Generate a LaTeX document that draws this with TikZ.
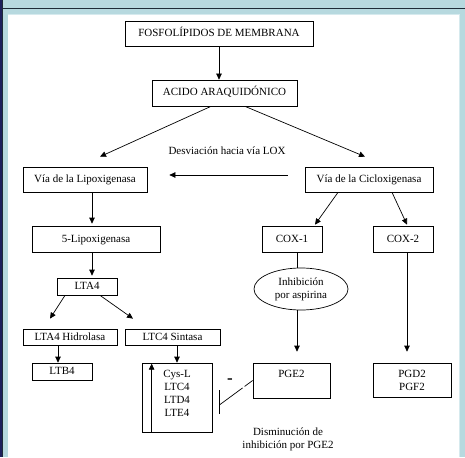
\documentclass[tikz,border=0pt]{standalone}
\usepackage{fontspec}
\setmainfont{Liberation Serif}
\usetikzlibrary{positioning,arrows.meta,shapes.geometric,calc}
\definecolor{RutaBlue}{RGB}{183,217,223}
\definecolor{RutaNavy}{RGB}{30,32,92}
\definecolor{RutaLine}{RGB}{30,44,56}
\definecolor{RutaEdge}{RGB}{214,234,238}
\tikzset{
  ruta box/.style={
    draw=black,
    line width=0.7pt,
    fill=white,
    align=center,
    font=\fontsize{11}{13.3}\selectfont,
    inner sep=0pt,
    text height=8pt,
    text depth=2pt
  },
  ruta top/.style={ruta box, text height=14pt},
  ruta oval/.style={ruta box, ellipse, text height=, text depth=, minimum width=94pt, minimum height=42pt},
  ruta arrow/.style={-{Triangle[length=6pt,width=5.5pt]}, line width=0.7pt},
  ruta line/.style={line width=0.7pt},
  ruta label/.style={font=\fontsize{11}{12.5}\selectfont, align=center}
}
\begin{document}
\begin{tikzpicture}[x=1pt,y=-1pt]
\useasboundingbox (0,0) rectangle (465,457);
\fill[RutaBlue] (0,0) rectangle (465,457);
\fill[RutaNavy] (0,0) rectangle (3,457);
\draw[RutaLine, line width=1.1pt] (2.6,0) -- (2.6,457);
\draw[RutaLine, line width=1.1pt] (2.6,8.5) -- (465,8.5);
\fill[white] (8,14) rectangle (459,457);
\draw[RutaEdge] (8,14) -- (459,14) -- (459,457);

\node[ruta box, minimum width=188pt, minimum height=25pt] (fosf) at (219,33.5) {FOSFOLÍPIDOS DE MEMBRANA};
\node[ruta box, minimum width=145pt, minimum height=26pt] (acido) at (224.5,93) {ACIDO ARAQUIDÓNICO};
\node[ruta label] (desvio) at (227,151) {Desviación hacia vía LOX};
\node[ruta box, minimum width=124pt, minimum height=25pt] (lipox) at (85,179.5) {Vía de la Lipoxigenasa};
\node[ruta box, minimum width=128pt, minimum height=25pt] (ciclox) at (369,179.5) {Vía de la Cicloxigenasa};
\node[ruta box, minimum width=128pt, minimum height=26pt] (lipo5) at (96,239) {5-Lipoxigenasa};
\node[ruta box, minimum width=60pt, minimum height=17pt] (lta4) at (87,286.5) {LTA4};
\node[ruta box, minimum width=94pt, minimum height=16pt] (hidro) at (70,337) {LTA4 Hidrolasa};
\node[ruta box, minimum width=95pt, minimum height=16pt] (sintasa) at (172.5,337) {LTC4 Sintasa};
\node[ruta box, minimum width=60pt, minimum height=17pt] (ltb4) at (62,371.5) {LTB4};
\node[ruta top, text width=70pt, text depth=55pt] (cysl) at (177,397.5) {Cys-L\\LTC4\\LTD4\\LTE4};
\node[ruta box, minimum width=60pt, minimum height=26pt] (cox1) at (292,239) {COX-1};
\node[ruta box, minimum width=60pt, minimum height=26pt] (cox2) at (403,239) {COX-2};
\node[ruta oval] (aspirina) at (301,289) {Inhibición\\por aspirina};
\node[ruta top, minimum width=77pt, text depth=21pt] (pge2) at (291.5,380.5) {PGE2};
\node[ruta top, text width=78pt, text depth=20pt] (pgd2) at (412,380) {PGD2\\PGF2};
\node[font=\bfseries\fontsize{17}{17}\selectfont] (menos) at (230,381) {-};
\node[ruta label] (dismin) at (288,439.5) {Disminución de\\inhibición por PGE2};
\coordinate (freno) at ($(cysl.east)+(7,7.5)$);

\draw[ruta arrow] (fosf.south) -- (fosf.south |- acido.north);
\draw[ruta arrow] ($(acido.south)+(-13.5,0)$) -- ($(lipox.north)+(15,-10)$);
\draw[ruta arrow] ($(acido.south)+(20.5,0)$) -- ($(ciclox.north)+(-4,-10)$);
\draw[ruta arrow] ($(ciclox.west)+(-17,-4.5)$) -- ($(lipox.east)+(22,-4.5)$);
\draw[ruta arrow] ($(lipox.south)+(7,0)$) -- ($(lipo5.north)+(-4,-2)$);
\draw[ruta arrow] ($(lipo5.south)+(-4,0)$) -- ($(lta4.north)+(5,-2)$);
\draw[ruta arrow] ($(lta4.south)+(-22,0)$) -- ($(hidro.north)+(-20,-10)$);
\draw[ruta arrow] ($(lta4.south)+(13,0)$) -- ($(sintasa.north)+(-39.5,-10)$);
\draw[ruta arrow] ($(hidro.south)+(-12,0)$) -- ($(ltb4.north)+(-4,0)$);
\draw[ruta arrow] ($(sintasa.south)+(4.5,0)$) -- (cysl.north);
\draw[ruta arrow] ($(cysl.south west)+(10,0)$) -- ($(cysl.north west)+(10,1)$);
\draw[ruta arrow] ($(ciclox.south)+(-31,0)$) -- ($(cox1.north)+(23,-1)$);
\draw[ruta arrow] ($(ciclox.south)+(23,0)$) -- ($(cox2.north)+(4,-1)$);
\draw[ruta line] ($(cox1.south)+(5,0)$) -- ($(aspirina.north)+(-4,0)$);
\draw[ruta arrow] ($(aspirina.south)+(-4,0)$) -- ($(pge2.north)+(5.5,-11)$);
\draw[ruta arrow] ($(cox2.south)+(4,0)$) -- ($(pgd2.north)+(-5,-11)$);
\draw[ruta line, dash pattern=on 10pt off 2.5pt on 50pt off 1pt] (pge2.west) -- (freno);
\draw[ruta line] ($(freno)+(0,-15)$) -- ($(freno)+(0,9)$);
\end{tikzpicture}
\end{document}
